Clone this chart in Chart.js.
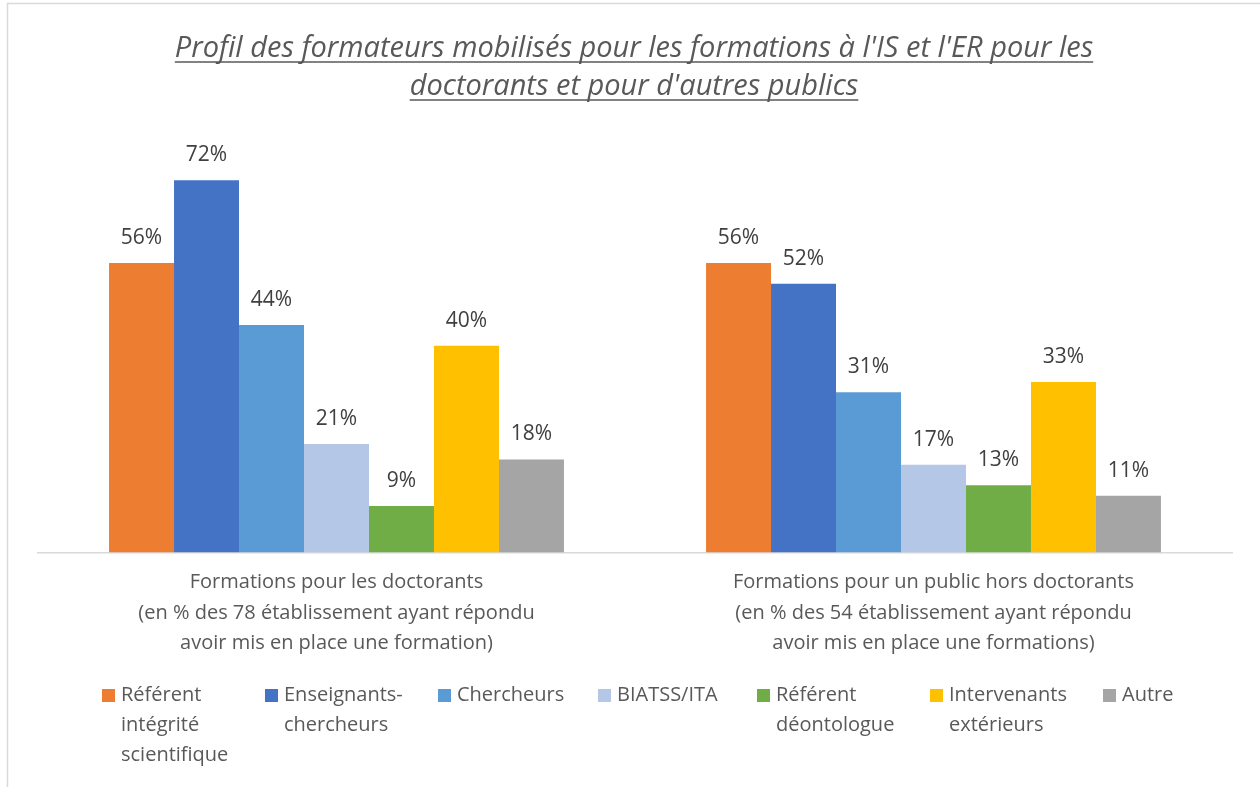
<!DOCTYPE html>
<html>
<head>
<meta charset="utf-8">
<script src="https://cdn.jsdelivr.net/npm/chart.js@4.4.1/dist/chart.umd.min.js"></script>
<style>
html,body{margin:0;padding:0;background:#fff;}
#wrap{width:1260px;height:787px;position:relative;}
</style>
</head>
<body>
<div id="wrap"><canvas id="c"></canvas></div>
<script>
const titleLines = ["Profil des formateurs mobilisés pour les formations à l'IS et l'ER pour les", "doctorants et pour d'autres publics"];
const categories = [
  ["Formations pour les doctorants", "(en % des 78 établissement ayant répondu", "avoir mis en place une formation)"],
  ["Formations pour un public hors doctorants", "(en % des 54 établissement ayant répondu", "avoir mis en place une formations)"]
];
const seriesNames = ["Référent intégrité scientifique", "Enseignants-chercheurs", "Chercheurs", "BIATSS/ITA", "Référent déontologue", "Intervenants extérieurs", "Autre"];
const legendLines = [["Référent", "intégrité", "scientifique"], ["Enseignants-", "chercheurs"], ["Chercheurs"], ["BIATSS/ITA"], ["Référent", "déontologue"], ["Intervenants", "extérieurs"], ["Autre"]];
const refIntegrite = [56, 56];
const enseignantsChercheurs = [72, 52];
const chercheurs = [44, 31];
const biatss = [21, 17];
const refDeontologue = [9, 13];
const intervenants = [40, 33];
const autre = [18, 11];
const seriesValues = [refIntegrite, enseignantsChercheurs, chercheurs, biatss, refDeontologue, intervenants, autre];
const colors = ["#ED7D31", "#4472C4", "#5B9BD5", "#B4C7E7", "#70AD47", "#FFC000", "#A5A5A5"];

const FONT = "'Open Sans', 'Noto Sans', sans-serif";

const framePlugin = {
  id: 'frame',
  beforeDraw(chart) {
    const ctx = chart.ctx;
    ctx.save();
    ctx.fillStyle = '#fff';
    ctx.fillRect(0, 0, chart.width, chart.height);
    ctx.strokeStyle = '#d9d9d9';
    ctx.lineWidth = 1.5;
    ctx.beginPath();
    ctx.moveTo(7.5, chart.height);
    ctx.lineTo(7.5, 3.5);
    ctx.lineTo(chart.width, 3.5);
    ctx.stroke();
    ctx.restore();
  }
};

const titlePlugin = {
  id: 'utitle',
  afterDraw(chart) {
    const ctx = chart.ctx;
    ctx.save();
    ctx.font = "italic 29px " + FONT;
    ctx.fillStyle = '#595959';
    ctx.strokeStyle = '#595959';
    ctx.textAlign = 'center';
    ctx.textBaseline = 'alphabetic';
    const cx = 634;
    const baselines = [57, 95];
    titleLines.forEach((t, i) => {
      ctx.fillText(t, cx, baselines[i]);
      const w = ctx.measureText(t).width;
      ctx.lineWidth = 1.4;
      ctx.beginPath();
      ctx.moveTo(cx - w / 2, baselines[i] + 5);
      ctx.lineTo(cx + w / 2, baselines[i] + 5);
      ctx.stroke();
    });
    ctx.restore();
  }
};

const valueLabelPlugin = {
  id: 'vlabels',
  afterDatasetsDraw(chart) {
    const ctx = chart.ctx;
    ctx.save();
    ctx.font = "21px " + FONT;
    ctx.fillStyle = '#404040';
    ctx.textAlign = 'center';
    ctx.textBaseline = 'middle';
    chart.data.datasets.forEach((ds, di) => {
      const meta = chart.getDatasetMeta(di);
      meta.data.forEach((bar, i) => {
        ctx.fillText(ds.data[i] + '%', bar.x, bar.y - 25);
      });
    });
    ctx.restore();
  }
};

const legendPlugin = {
  id: 'customLegend',
  afterDraw(chart) {
    const ctx = chart.ctx;
    const xs = [102, 265, 438, 598, 757, 930, 1103];
    const base0 = 701, lh = 30;
    ctx.save();
    ctx.font = "20px " + FONT;
    ctx.textBaseline = 'alphabetic';
    ctx.textAlign = 'left';
    chart.data.datasets.forEach((ds, di) => {
      ctx.fillStyle = ds.backgroundColor;
      ctx.fillRect(xs[di], 689, 13, 13);
      ctx.fillStyle = '#595959';
      legendLines[di].forEach((line, li) => {
        ctx.fillText(line, xs[di] + 19, base0 + li * lh);
      });
    });
    ctx.restore();
  }
};

new Chart(document.getElementById('c'), {
  type: 'bar',
  data: {
    labels: categories,
    datasets: seriesNames.map((n, i) => ({
      label: n,
      data: seriesValues[i],
      backgroundColor: colors[i],
      borderWidth: 0,
      categoryPercentage: 0.762,
      barPercentage: 1.0
    }))
  },
  options: {
    responsive: true,
    maintainAspectRatio: false,
    animation: false,
    layout: { padding: { left: 38, right: 28, top: 139, bottom: 113 } },
    plugins: {
      legend: { display: false },
      title: { display: false },
      tooltip: { enabled: false }
    },
    scales: {
      y: { display: false, min: 0, max: 80 },
      x: {
        grid: { display: false, drawTicks: false },
        border: { display: true, color: '#d9d9d9', width: 1.5 },
        ticks: {
          color: '#595959',
          font: { family: FONT, size: 20, lineHeight: 1.525 },
          padding: 15,
          maxRotation: 0,
          autoSkip: false
        }
      }
    }
  },
  plugins: [framePlugin, titlePlugin, valueLabelPlugin, legendPlugin]
});
</script>
</body>
</html>
